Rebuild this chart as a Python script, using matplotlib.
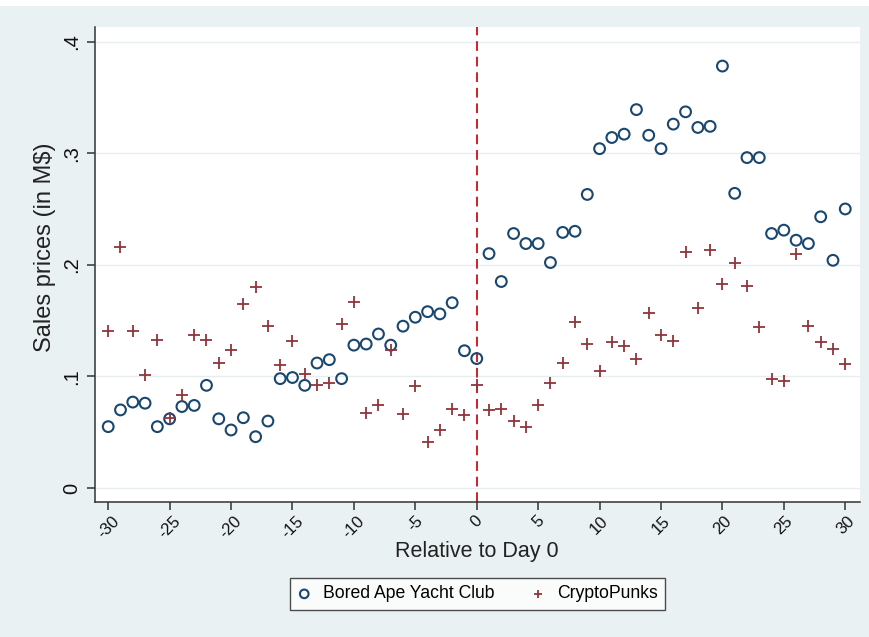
import matplotlib
matplotlib.use("Agg")
import matplotlib.pyplot as plt
from matplotlib.patches import Rectangle

days = list(range(-30, 31))
bayc = [0.055, 0.070, 0.077, 0.076, 0.055, 0.062, 0.073, 0.074, 0.092, 0.062,
        0.052, 0.063, 0.046, 0.060, 0.098, 0.099, 0.092, 0.112, 0.115, 0.098,
        0.128, 0.129, 0.138, 0.128, 0.145, 0.153, 0.158, 0.156, 0.166, 0.123,
        0.116, 0.210, 0.185, 0.228, 0.219, 0.219, 0.202, 0.229, 0.230, 0.263,
        0.304, 0.314, 0.317, 0.339, 0.316, 0.304, 0.326, 0.337, 0.323, 0.324,
        0.378, 0.264, 0.296, 0.296, 0.228, 0.231, 0.222, 0.219, 0.243, 0.204,
        0.250]
punks = [0.141, 0.216, 0.141, 0.101, 0.133, 0.063, 0.083, 0.137, 0.133, 0.112,
         0.124, 0.165, 0.180, 0.145, 0.110, 0.132, 0.102, 0.092, 0.094, 0.147,
         0.167, 0.067, 0.074, 0.124, 0.066, 0.091, 0.041, 0.052, 0.071, 0.065,
         0.092, 0.070, 0.071, 0.060, 0.055, 0.074, 0.094, 0.112, 0.149, 0.129,
         0.105, 0.131, 0.127, 0.116, 0.157, 0.137, 0.132, 0.211, 0.161, 0.213,
         0.183, 0.202, 0.181, 0.144, 0.098, 0.096, 0.210, 0.145, 0.131, 0.125,
         0.111]
xticks = list(range(-30, 31, 5))
xticklabels = [str(v) for v in xticks]
yticks = [0, 0.1, 0.2, 0.3, 0.4]
yticklabels = ["0", ".1", ".2", ".3", ".4"]
event_day = 0

plt.rcParams['font.family'] = ['Liberation Sans', 'DejaVu Sans']

BG = '#e9f1f3'
NAVY = '#1a476f'
MAROON = '#90353b'
AXC = '#333333'
W, H = 870, 637

fig = plt.figure(figsize=(8.7, 6.37), dpi=100, facecolor=BG)
fig.patches.append(Rectangle((0, 1 - 6/H), 1, 6/H, transform=fig.transFigure,
                             facecolor='white', edgecolor='none', zorder=-1))

ax = fig.add_axes([94.7/W, (H-502)/H, (860-94.7)/W, (502-27)/H])
ax.set_facecolor('white')

ax.set_xlim(-31.1, 31.2)
ax.set_ylim(-0.0125, 0.413)

for v in yticks:
    ax.axhline(v, color='#e6eef0', lw=1.0, zorder=0)

ax.axvline(event_day, color='#d0202a', lw=1.4, ls=(0, (5, 3)), zorder=1)

ax.scatter(days, bayc, s=60, facecolors='none', edgecolors=NAVY, linewidths=1.5,
           marker='o', label='Bored Ape Yacht Club', zorder=3)
ax.scatter(days, punks, s=65, color=MAROON, linewidths=1.3, marker='+',
           label='CryptoPunks', zorder=3)

for s in ['top', 'right']:
    ax.spines[s].set_visible(False)
for s in ['left', 'bottom']:
    ax.spines[s].set_color(AXC)
    ax.spines[s].set_linewidth(1.1)

ax.set_xticks(xticks)
ax.set_xticklabels(xticklabels, rotation=45, ha='center', va='top')
ax.set_yticks(yticks)
ax.set_yticklabels(yticklabels, rotation=90, va='center')
ax.tick_params(axis='both', direction='out', length=6, width=1.1, color=AXC,
               labelcolor='#111111')
ax.tick_params(axis='x', labelsize=12, pad=2)
ax.tick_params(axis='y', labelsize=14.5, pad=4)

fig.text(476.7/W, 1 - 551/H, 'Relative to Day 0', fontsize=15.5, color='#222222',
         ha='center', va='center')
fig.text(45/W, 1 - 247.5/H, 'Sales prices (in M\\$)', fontsize=17, color='#222222',
         ha='center', va='center', rotation=90)

leg = ax.legend(loc='center', bbox_to_anchor=(477.5/W, 1 - 594/H),
                bbox_transform=fig.transFigure, ncol=2, frameon=True,
                fancybox=False, edgecolor='#222222', fontsize=12.7,
                handlelength=0.8, handletextpad=0.68, columnspacing=2.05,
                borderpad=0.4, scatterpoints=1, markerscale=0.8)
leg.get_frame().set_linewidth(1.0)

fig.savefig('out.png', dpi=100, facecolor=BG)
